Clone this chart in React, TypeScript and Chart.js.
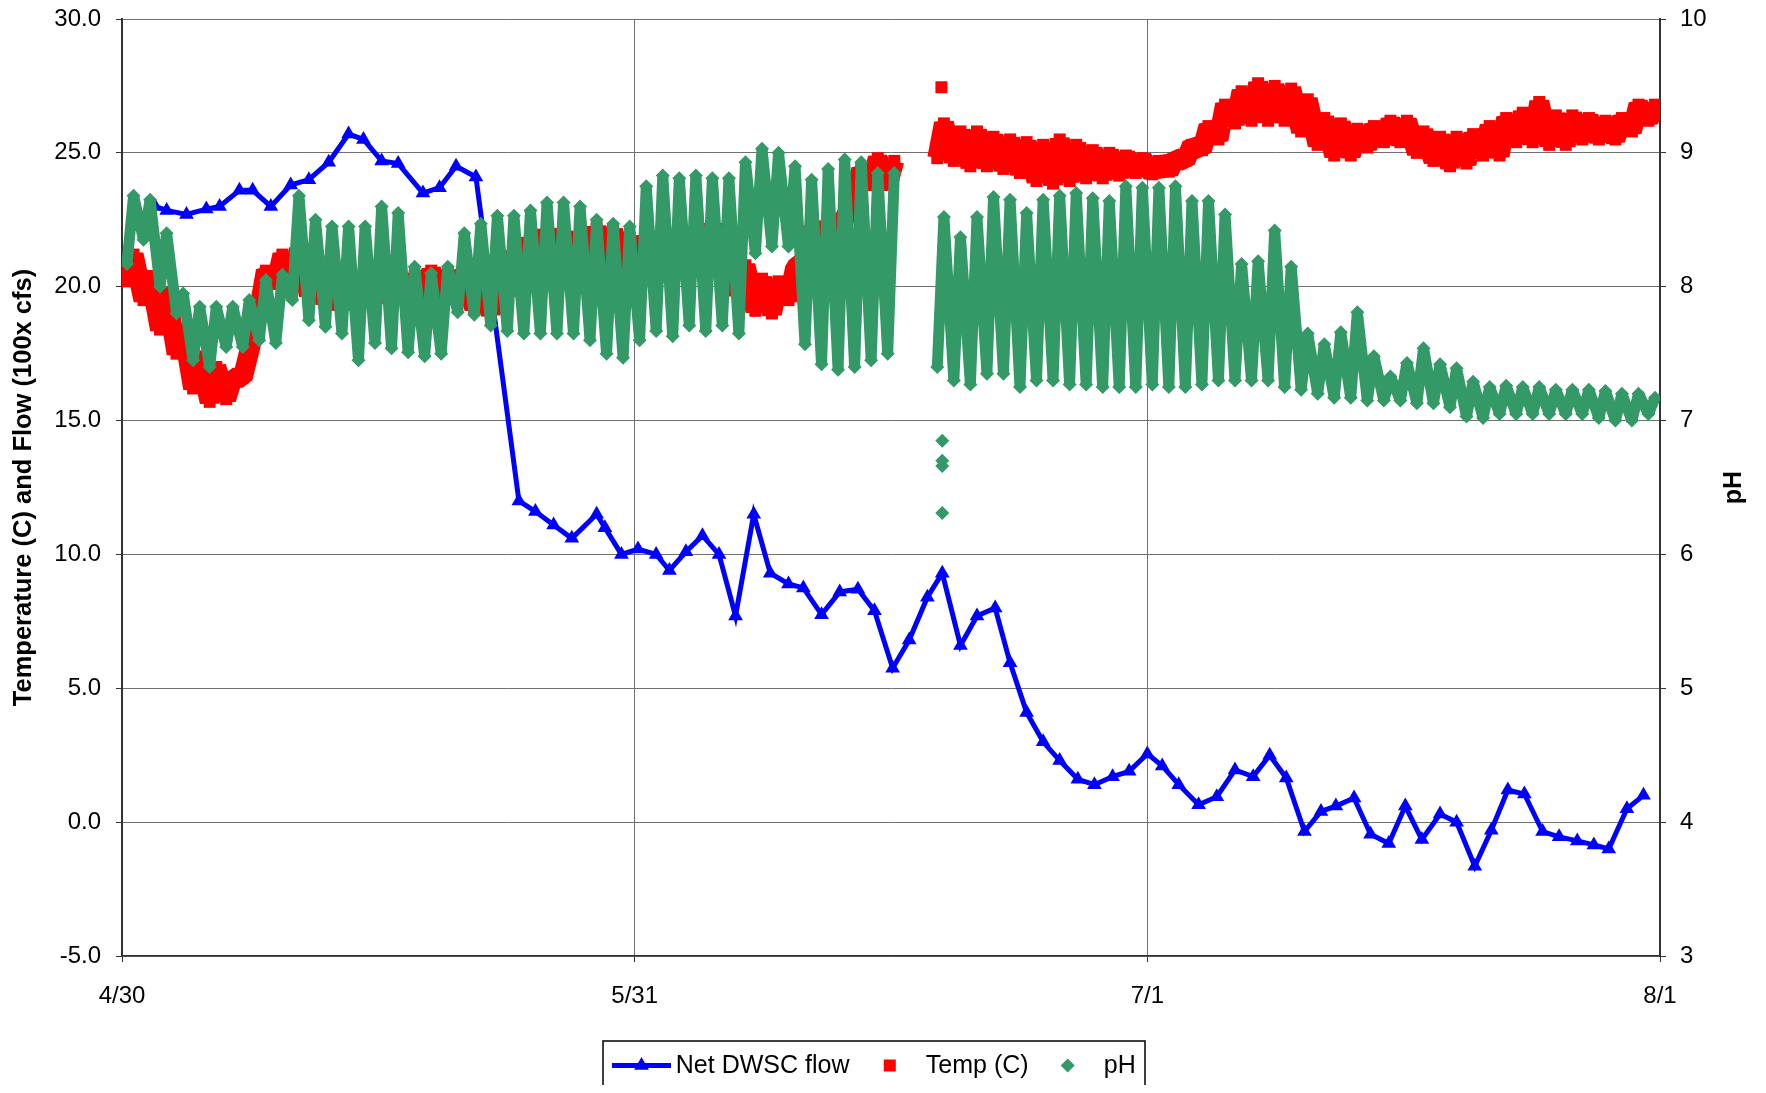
import { useEffect, useRef } from 'react';
import { Chart, registerables } from 'chart.js';

Chart.register(...registerables);

// ---- axis ticks ----
const xTickDays = [0, 31, 62, 93];
const xTickLabels = ['4/30', '5/31', '7/1', '8/1'];

// ---- Net DWSC flow (100x cfs), day index from 4/30 ----
const flowDay = [2.0, 2.7, 3.9, 5.1, 5.9, 7.1, 7.9, 9.0, 10.2, 11.3, 12.5, 13.7, 14.6, 15.7, 16.7, 18.2, 19.2, 20.2, 21.4,
  24.0, 25.0, 26.1, 27.2, 28.7, 29.2, 30.2, 31.2, 32.3, 33.1, 34.1, 35.1, 36.1, 37.1, 38.2, 39.2, 40.3, 41.2, 42.3, 43.4,
  44.5, 45.5, 46.6, 47.6, 48.7, 49.6, 50.7, 51.7, 52.8, 53.7, 54.7, 55.7, 56.7, 57.8, 58.8, 59.9, 60.9, 62.0, 62.9, 63.9,
  65.1, 66.2, 67.3, 68.4, 69.4, 70.4, 71.5, 72.5, 73.4, 74.5, 75.5, 76.6, 77.6, 78.6, 79.7, 80.7, 81.8, 82.8, 83.8, 84.8,
  85.9, 86.9, 88.0, 89.0, 89.9, 91.0, 92.0];
const flowValue = [23.0, 22.85, 22.7, 22.9, 23.0, 23.6, 23.6, 23.0, 23.8, 24.0, 24.65, 25.7, 25.5, 24.7, 24.6, 23.5, 23.7, 24.5, 24.1,
  12.0, 11.6, 11.1, 10.6, 11.5, 11.0, 10.0, 10.2, 10.0, 9.4, 10.1, 10.7, 10.0, 7.7, 11.5, 9.3, 8.9, 8.75, 7.75, 8.6,
  8.7, 7.9, 5.75, 6.8, 8.4, 9.3, 6.6, 7.7, 8.0, 5.95, 4.1, 3.0, 2.3, 1.6, 1.4, 1.7, 1.9, 2.55, 2.1, 1.4,
  0.65, 0.95, 1.95, 1.7, 2.5, 1.65, -0.35, 0.4, 0.6, 0.9, -0.45, -0.8, 0.6, -0.65, 0.3, 0.0, -1.65, -0.3, 1.2, 1.05,
  -0.35, -0.55, -0.7, -0.85, -1.0, 0.5, 1.0];

// ---- daily pH minimum / maximum (day 0 = 4/30), null = no record ----
const pHLow = [8.17, 8.35, 8.0, 7.8, 7.45, 7.4, 7.55, 7.55, 7.6, 7.58,
  7.9, 7.75, 7.7, 7.65, 7.45, 7.58, 7.54, 7.51, 7.48, 7.5,
  7.81, 7.79, 7.71, 7.67, 7.65, 7.65, 7.65, 7.65, 7.6, 7.5,
  7.47, 7.6, 7.67, 7.63, 7.71, 7.67, 7.71, 7.65, 8.25, 8.3,
  8.3, 7.57, 7.42, 7.38, 7.4, 7.45, 7.5, null, null, 7.4,
  7.3, 7.27, 7.35, 7.35, 7.25, 7.3, 7.3, 7.27, 7.27, 7.25,
  7.25, 7.25, 7.27, 7.25, 7.25, 7.27, 7.3, 7.3, 7.3, 7.3,
  7.25, 7.23, 7.2, 7.17, 7.17, 7.15, 7.15, 7.15, 7.13, 7.13,
  7.1, 7.03, 7.02, 7.05, 7.05, 7.05, 7.05, 7.05, 7.05, 7.02,
  7.0, 7.0, 7.05];
const pHHigh = [8.68, 8.65, 8.4, 7.95, 7.85, 7.85, 7.85, 7.9, 8.05, 8.09,
  8.68, 8.5, 8.45, 8.45, 8.45, 8.6, 8.55, 8.15, 8.1, 8.15,
  8.4, 8.47, 8.53, 8.53, 8.57, 8.63, 8.63, 8.6, 8.5, 8.47,
  8.45, 8.75, 8.83, 8.81, 8.83, 8.81, 8.81, 8.93, 9.03, 9.0,
  8.9, 8.8, 8.88, 8.95, 8.93, 8.85, 8.85, null, null, 8.52,
  8.37, 8.52, 8.67, 8.65, 8.55, 8.65, 8.68, 8.7, 8.66, 8.64,
  8.75, 8.74, 8.74, 8.75, 8.64, 8.64, 8.54, 8.17, 8.19, 8.42,
  8.15, 7.65, 7.57, 7.66, 7.81, 7.48, 7.33, 7.43, 7.54, 7.42,
  7.39, 7.29, 7.25, 7.26, 7.25, 7.25, 7.23, 7.23, 7.23, 7.22,
  7.2, 7.2, 7.17];
const pHSpikeDay = [49.6, 49.6, 49.6, 49.6];
const pHSpikeValue = [6.31, 6.66, 6.7, 6.85];

// ---- daily temperature minimum / maximum (C) ----
const tempLow = [20.2, 19.5, 18.4, 17.5, 16.2, 15.7, 15.8, 16.6, 19.2, 20.1,
  20.1, 19.7, 19.4, 19.2, 19.4, 19.5, 19.5, 19.6, 19.7, 19.8,
  19.7, 19.2, 19.0, 19.7, 20.2, 20.7, 20.8, 20.6, 20.8, 20.8,
  20.7, 20.8, 21.0, 20.8, 21.0, 21.2, 20.7, 19.7, 19.1, 19.0,
  19.5, 21.0, 21.2, 21.4, 23.0, 23.8, 23.8, null, null, 24.8,
  24.7, 24.5, 24.5, 24.4, 24.25, 23.95, 23.85, 23.95, 24.05, 24.05,
  24.15, 24.25, 24.2, 24.3, 24.7, 25.1, 25.5, 26.1, 26.2, 26.2,
  26.2, 25.8, 25.3, 24.9, 24.9, 25.2, 25.4, 25.4, 25.0, 24.7,
  24.5, 24.6, 24.9, 24.9, 25.4, 25.4, 25.3, 25.3, 25.5, 25.5,
  25.5, 25.8, 26.2];
const tempHigh = [21.2, 20.4, 19.8, 18.4, 17.4, 17.0, 16.6, 17.6, 20.6, 21.2,
  21.4, 21.0, 20.4, 20.4, 20.2, 20.4, 20.2, 20.4, 20.6, 20.5,
  20.4, 20.1, 20.3, 21.3, 21.8, 22.1, 22.0, 21.8, 22.2, 22.1,
  21.8, 21.8, 22.0, 21.8, 22.2, 22.3, 21.8, 20.8, 20.3, 20.2,
  20.7, 22.2, 22.4, 22.6, 24.4, 24.8, 24.7, null, null, 26.1,
  25.8, 25.8, 25.6, 25.5, 25.4, 25.3, 25.5, 25.3, 25.1, 25.0,
  24.9, 24.8, 24.7, 24.8, 25.3, 26.0, 26.8, 27.3, 27.6, 27.5,
  27.4, 27.0, 26.3, 26.1, 25.9, 26.0, 26.2, 26.2, 25.8, 25.6,
  25.6, 25.7, 26.0, 26.3, 26.5, 26.9, 26.4, 26.4, 26.3, 26.2,
  26.3, 26.8, 26.8];
const tempSpikeDay = [49.55];
const tempSpikeValue = [27.45];

// time of day (fraction) of the daily minimum and maximum readings
const LOW_TIME = 0.3;
const HIGH_TIME = 0.7;

const seriesNames = ['Net DWSC flow', 'Temp (C)', 'pH'];
const leftTitle = 'Temperature (C) and Flow (100x cfs)';
const rightTitle = 'pH';
const flowColor = '#0000FF';
const tempColor = '#FF0000';
const phColor = '#339966';
const FONT = "'Liberation Sans', Arial, sans-serif";

const W = 1750;
const H = 1077;

function dailyPoints(lo: (number | null)[], hi: (number | null)[]) {
  const pts: { x: number; y: number | null }[] = [];
  lo.forEach((v, d) => {
    const h = hi[d];
    if (v == null || h == null) {
      pts.push({ x: d + 0.5, y: null });
      return;
    }
    pts.push({ x: d + LOW_TIME, y: v });
    pts.push({ x: d + HIGH_TIME, y: h });
  });
  return pts;
}

const decorPlugin = {
  id: 'decor',
  afterDraw(chart: any) {
    const ctx = chart.ctx as CanvasRenderingContext2D;
    const area = chart.chartArea;
    ctx.save();
    // right axis title, reading bottom to top
    ctx.fillStyle = '#000000';
    ctx.font = `bold 25px ${FONT}`;
    ctx.textAlign = 'center';
    ctx.textBaseline = 'middle';
    ctx.translate(1726.5, (area.top + area.bottom) / 2);
    ctx.rotate(-Math.PI / 2);
    ctx.fillText(rightTitle, 0, 0);
    ctx.restore();

    ctx.save();
    const bx = 595, by = 1033, bw = 542, bh = 49;
    const cy = by + bh / 2;
    ctx.fillStyle = '#ffffff';
    ctx.fillRect(bx, by, bw, bh);
    ctx.strokeStyle = '#000000';
    ctx.lineWidth = 1.5;
    ctx.strokeRect(bx, by, bw, bh);

    // flow: line + triangle
    ctx.strokeStyle = flowColor;
    ctx.lineWidth = 5;
    ctx.beginPath();
    ctx.moveTo(604, cy);
    ctx.lineTo(663, cy);
    ctx.stroke();
    ctx.fillStyle = flowColor;
    ctx.beginPath();
    const tx = 633.5, r = 8.5;
    ctx.moveTo(tx, cy - r);
    ctx.lineTo(tx + r * 0.866, cy + r / 2);
    ctx.lineTo(tx - r * 0.866, cy + r / 2);
    ctx.closePath();
    ctx.fill();

    // temp: square
    ctx.fillStyle = tempColor;
    ctx.fillRect(881.8 - 6, cy - 6, 12, 12);

    // pH: diamond
    ctx.fillStyle = phColor;
    ctx.beginPath();
    const dx = 1059.7, dr = 7;
    ctx.moveTo(dx, cy - dr);
    ctx.lineTo(dx + dr, cy);
    ctx.lineTo(dx, cy + dr);
    ctx.lineTo(dx - dr, cy);
    ctx.closePath();
    ctx.fill();

    ctx.fillStyle = '#000000';
    ctx.font = `25px ${FONT}`;
    ctx.textBaseline = 'middle';
    ctx.textAlign = 'left';
    ctx.fillText(seriesNames[0], 667.8, cy + 1);
    ctx.fillText(seriesNames[1], 917.8, cy + 1);
    ctx.fillText(seriesNames[2], 1095.8, cy + 1);
    ctx.restore();
  },
};

export default function App() {
  const ref = useRef<HTMLCanvasElement | null>(null);

  useEffect(() => {
    if (!ref.current) return;
    const chart = new Chart(ref.current, {
      type: 'line',
      data: {
        datasets: [
          {
            label: seriesNames[0],
            data: flowDay.map((d, i) => ({ x: d, y: flowValue[i] })),
            yAxisID: 'y',
            borderColor: flowColor,
            backgroundColor: flowColor,
            borderWidth: 5,
            pointStyle: 'triangle',
            pointRadius: 8.5,
            pointBorderWidth: 0,
            pointBackgroundColor: flowColor,
            tension: 0,
            order: 3,
          },
          {
            label: seriesNames[1],
            data: dailyPoints(tempLow, tempHigh),
            yAxisID: 'y',
            borderColor: tempColor,
            backgroundColor: tempColor,
            borderWidth: 20,
            borderJoinStyle: 'bevel',
            pointStyle: 'rect',
            pointRadius: 8.5,
            pointBorderWidth: 0,
            pointBackgroundColor: tempColor,
            spanGaps: false,
            tension: 0,
            order: 2,
          },
          {
            label: seriesNames[1] + ' start',
            data: tempSpikeDay.map((d, i) => ({ x: d, y: tempSpikeValue[i] })),
            yAxisID: 'y',
            showLine: false,
            pointStyle: 'rect',
            pointRadius: 8.5,
            pointBorderWidth: 0,
            pointBackgroundColor: tempColor,
            order: 2,
          },
          {
            label: seriesNames[2],
            data: dailyPoints(pHLow, pHHigh),
            yAxisID: 'y1',
            borderColor: phColor,
            backgroundColor: phColor,
            borderWidth: 11,
            borderJoinStyle: 'bevel',
            pointStyle: 'rectRot',
            pointRadius: 7,
            pointBorderWidth: 0,
            pointBackgroundColor: phColor,
            spanGaps: false,
            tension: 0,
            order: 1,
          },
          {
            label: seriesNames[2] + ' start',
            data: pHSpikeDay.map((d, i) => ({ x: d, y: pHSpikeValue[i] })),
            yAxisID: 'y1',
            showLine: false,
            pointStyle: 'rectRot',
            pointRadius: 7,
            pointBorderWidth: 0,
            pointBackgroundColor: phColor,
            order: 1,
          },
        ],
      },
      options: {
        responsive: false,
        devicePixelRatio: 1,
        animation: false,
        events: [],
        layout: { padding: { top: 11, left: 0, right: 0, bottom: 69 } },
        plugins: { legend: { display: false }, tooltip: { enabled: false } },
        scales: {
          x: {
            type: 'linear',
            min: 0,
            max: 93,
            afterBuildTicks: (scale: any) => {
              scale.ticks = xTickDays.map((v) => ({ value: v }));
            },
            afterFit: (scale: any) => {
              scale.height = 60;
            },
            ticks: {
              autoSkip: false,
              maxRotation: 0,
              padding: 22,
              color: '#000',
              font: { family: FONT, size: 24, lineHeight: 1 },
              callback: (v: any) => {
                const i = xTickDays.indexOf(Number(v));
                return i >= 0 ? xTickLabels[i] : '';
              },
            },
            grid: { color: '#707070', lineWidth: 1, tickLength: 6, tickColor: '#333' },
            border: { color: '#333', width: 1.5 },
          },
          y: {
            type: 'linear',
            position: 'left',
            min: -5,
            max: 30,
            afterFit: (scale: any) => {
              scale.width = 114;
              scale.paddingTop = 0;
              scale.paddingBottom = 0;
            },
            ticks: {
              stepSize: 5,
              padding: 15,
              color: '#000',
              font: { family: FONT, size: 24, lineHeight: 1 },
              callback: (v: any) => Number(v).toFixed(1),
            },
            grid: { color: '#707070', lineWidth: 1, tickLength: 6, tickColor: '#333' },
            border: { color: '#333', width: 2 },
            title: {
              display: true,
              text: leftTitle,
              color: '#000',
              font: { family: FONT, size: 25.5, weight: 'bold', lineHeight: 1.2 },
              padding: { top: 0.3, bottom: 0 },
            },
          },
          y1: {
            type: 'linear',
            position: 'right',
            min: 3,
            max: 10,
            afterFit: (scale: any) => {
              scale.width = 98;
              scale.paddingTop = 0;
              scale.paddingBottom = 0;
            },
            ticks: {
              stepSize: 1,
              padding: 14,
              color: '#000',
              font: { family: FONT, size: 24, lineHeight: 1 },
            },
            grid: { drawOnChartArea: false, tickLength: 6, color: '#333' },
            border: { color: '#333', width: 2 },
          },
        },
      },
      plugins: [decorPlugin],
    } as any);
    return () => chart.destroy();
  }, []);

  return <canvas ref={ref} width={W} height={H} style={{ display: 'block', width: W, height: H }} />;
}
